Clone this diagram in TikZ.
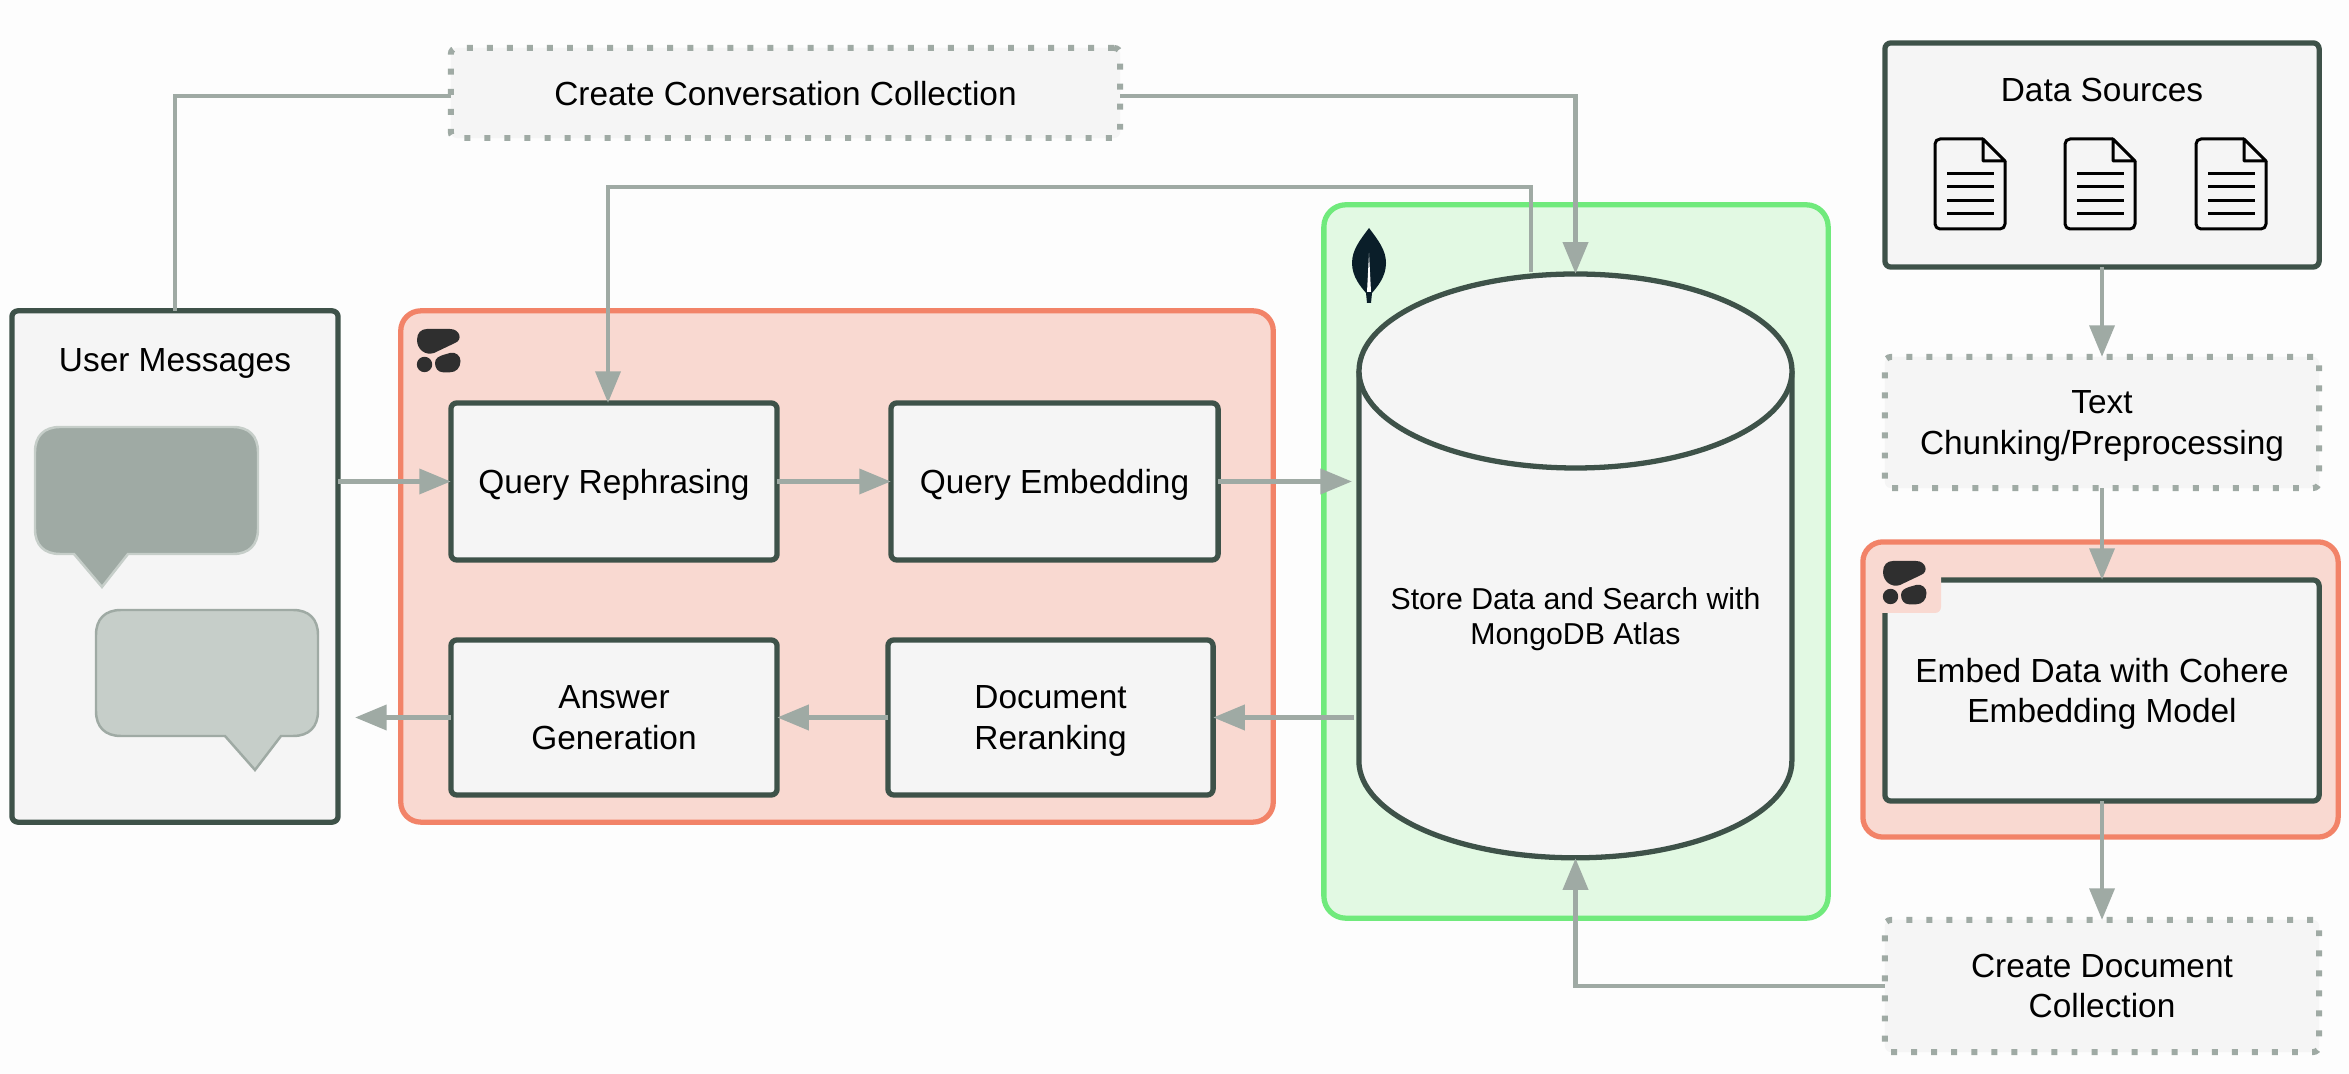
\documentclass[tikz,border=0pt]{standalone}
\usepackage{fontspec}
\setmainfont{Liberation Sans}
\usepackage{xcolor}
\usepackage{tikz}
\usetikzlibrary{positioning,arrows.meta,calc}
\definecolor{edge}{HTML}{3E5249}
\definecolor{link}{HTML}{9FAAA4}
\definecolor{panel}{HTML}{F5F5F5}
\definecolor{coral}{HTML}{F28368}
\definecolor{coralbg}{HTML}{F9D9D1}
\definecolor{mint}{HTML}{70EA7C}
\definecolor{mintbg}{HTML}{E2F9E3}
\definecolor{sage}{HTML}{C6CEC9}
\definecolor{blob}{HTML}{2F2F2F}
\definecolor{leaf}{HTML}{0A1E29}
\definecolor{page}{HTML}{FDFDFD}
\tikzset{
  solidbox/.style={draw=edge, fill=panel, line width=1.5pt, rounded corners=0.06cm, align=center, font=\fontsize{9.5}{11.4}\selectfont, inner sep=0pt, outer sep=0pt, text depth=0pt},
  dotbox/.style={draw=link, fill=panel, line width=1.7pt, dash pattern=on 1.7pt off 4pt, rounded corners=0.06cm, align=center, font=\fontsize{9.5}{11.4}\selectfont, inner sep=0pt, outer sep=0pt, text=black, text depth=0pt},
  coralbox/.style={draw=coral, fill=coralbg, line width=1.5pt, rounded corners=0.2cm, inner sep=0pt},
  linkline/.style={draw=link, line width=1.4pt, -{Triangle[length=9pt,width=7pt]}},
  plainline/.style={draw=link, line width=1.4pt},
  title/.style={font=\fontsize{9.5}{11.4}\selectfont, inner sep=0pt, text depth=0pt},
  pics/cohere/.style={code={
    \fill[blob] (10,0) -- (33,0) .. controls (43,0) and (46,11) .. (38,14) -- (17,24) .. controls (8,27) and (0,20) .. (0,11) .. controls (0,4) and (4,0) .. (10,0) -- cycle;
    \fill[blob] (7.5,35.5) circle (7.7);
    \fill[blob] (18,34) .. controls (18,29) and (22,27.5) .. (26,26) -- (33,24) .. controls (39,22.5) and (43.5,27) .. (43.5,32) .. controls (43.5,39) and (39,43.3) .. (33,43.3) -- (26,43.3) .. controls (21,43.3) and (18,39) .. (18,34) -- cycle;
  }},
  pics/docicon/.style={code={
    \draw[black, line width=0.85pt, line join=round, rounded corners=0.05cm] (48,0) -- (0,0) -- (0,90) -- (70,90) -- (70,22);
    \draw[black, line width=0.85pt, line join=round] (48,0) -- (70,22) -- (48,22) -- cycle;
    \draw[black, line width=0.85pt] (12,35) -- (59,35);
    \draw[black, line width=0.85pt] (12,48) -- (59,48);
    \draw[black, line width=0.85pt] (12,62) -- (59,62);
    \draw[black, line width=0.85pt] (12,75) -- (59,75);
  }}
}
\begin{document}
\begin{tikzpicture}[x=0.01cm, y=-0.01cm]
\useasboundingbox (0,0) rectangle (2349,1074);
\fill[page] (0,0) rectangle (2349,1074);

\node[coralbox, minimum width=8.72cm, minimum height=5.11cm] (cohereback) at (837,566.5) {};
\node[coralbox, minimum width=4.75cm, minimum height=2.95cm] (embedback) at (2100.5,689.5) {};
\node[draw=mint, fill=mintbg, line width=1.5pt, rounded corners=0.22cm, minimum width=5.04cm, minimum height=7.13cm, inner sep=0pt] (atlasback) at (1576,561.5) {};

\pic at (417,329) {cohere};

\fill[leaf] (1369,228) .. controls (1378,240) and (1386,250) .. (1386,263) .. controls (1386,277) and (1377,287) .. (1372,293) -- (1371,303) -- (1367,303) -- (1366,293) .. controls (1361,287) and (1352,277) .. (1352,263) .. controls (1352,250) and (1360,240) .. (1369,228) -- cycle;
\fill[white] (1369,253) -- (1371,292) -- (1367,292) -- cycle;

\node[solidbox, minimum width=3.26cm, minimum height=5.11cm] (usermsg) at (175,566.5) {};
\node[title] (usertitle) at (175,360) {User Messages};
\draw[fill=link, draw=sage, line width=0.7pt] (60,427) -- (233,427) .. controls (249,427) and (258,436) .. (258,452) -- (258,529) .. controls (258,545) and (249,554) .. (233,554) -- (128,554) -- (102,587) -- (74,554) -- (60,554) .. controls (44,554) and (35,545) .. (35,529) -- (35,452) .. controls (35,436) and (44,427) .. (60,427) -- cycle;
\draw[fill=sage, draw=link, line width=0.7pt] (121,610) -- (293,610) .. controls (309,610) and (318,619) .. (318,635) -- (318,711) .. controls (318,727) and (309,736) .. (293,736) -- (281,736) -- (255,770) -- (225,736) -- (121,736) .. controls (105,736) and (96,727) .. (96,711) -- (96,635) .. controls (96,619) and (105,610) .. (121,610) -- cycle;

\node[solidbox, minimum width=3.26cm, minimum height=1.57cm] (rephrase) at (614,481.5) {Query Rephrasing};
\node[solidbox, minimum width=3.27cm, minimum height=1.57cm] (queryembed) at (1054.5,481.5) {Query Embedding};
\node[solidbox, minimum width=3.26cm, minimum height=1.55cm] (answer) at (614,717.5) {Answer\\Generation};
\node[solidbox, minimum width=3.25cm, minimum height=1.55cm] (rerank) at (1050.5,717.5) {Document\\Reranking};

\node[minimum width=4.33cm, minimum height=5.84cm, inner sep=0pt, outer sep=0pt] (atlas) at (1575.5,566) {};
\draw[draw=edge, fill=panel, line width=1.5pt] (atlas.north west) ++(0,97) -- ++(0,390) arc[start angle=180, end angle=0, x radius=216.5, y radius=97] -- ++(0,-390);
\draw[draw=edge, fill=panel, line width=1.5pt] (1575.5,371) ellipse [x radius=216.5, y radius=97];
\node[font=\fontsize{8.6}{10}\selectfont, align=center, inner sep=0pt, text depth=0pt] (atlastext) at (1575.5,616) {Store Data and Search with\\MongoDB Atlas};

\node[dotbox, minimum width=6.69cm, minimum height=0.9cm] (convcoll) at (785.5,93) {Create Conversation Collection};
\node[solidbox, minimum width=4.34cm, minimum height=2.24cm] (sources) at (2102,155) {};
\node[title] (sourcestitle) at (2102,90) {Data Sources};
\foreach \docx/\docname in {1935/doca, 2065/docb, 2196/docc}
  \pic (\docname) at (\docx,139) {docicon};
\node[dotbox, minimum width=4.34cm, minimum height=1.31cm] (chunking) at (2102,422.5) {Text\\Chunking/Preprocessing};
\node[solidbox, minimum width=4.34cm, minimum height=2.21cm] (embedmodel) at (2102,690.5) {Embed Data with Cohere\\Embedding Model};
\node[dotbox, minimum width=4.34cm, minimum height=1.32cm] (doccoll) at (2102,986) {Create Document\\Collection};

\fill[coralbg, rounded corners=0.06cm] (1868,556) rectangle (1941,613);
\pic at (1883,561) {cohere};

\coordinate (answerend) at (355,717.5);
\coordinate (atlasout) at (1531,272);
\coordinate (atlasleft) at (1354,717.5);
\coordinate (rephrasein) at (608,403);
\coordinate (atlasin) at (1352,481.5);

\draw[plainline] (usermsg.north) |- ([yshift=-0.03cm]convcoll.west);
\draw[linkline] ([yshift=-0.03cm]convcoll.east) -| (atlas.north);
\draw[linkline] (atlasout) |- (1300,187) -| (rephrasein);
\draw[linkline] (usermsg.east |- rephrase.west) -- (rephrase.west);
\draw[linkline] (rephrase.east) -- (queryembed.west);
\draw[linkline] (queryembed.east) -- (atlasin);
\draw[linkline] (atlasleft) -- (rerank.east);
\draw[linkline] (rerank.west) -- (answer.east);
\draw[linkline] (answer.west) -- (answerend);
\draw[linkline] (sources.south) -- (chunking.north);
\draw[linkline] (chunking.south) -- (embedmodel.north);
\draw[linkline] (embedmodel.south) -- (doccoll.north);
\draw[linkline] (doccoll.west) -| (atlas.south);
\end{tikzpicture}
\end{document}
